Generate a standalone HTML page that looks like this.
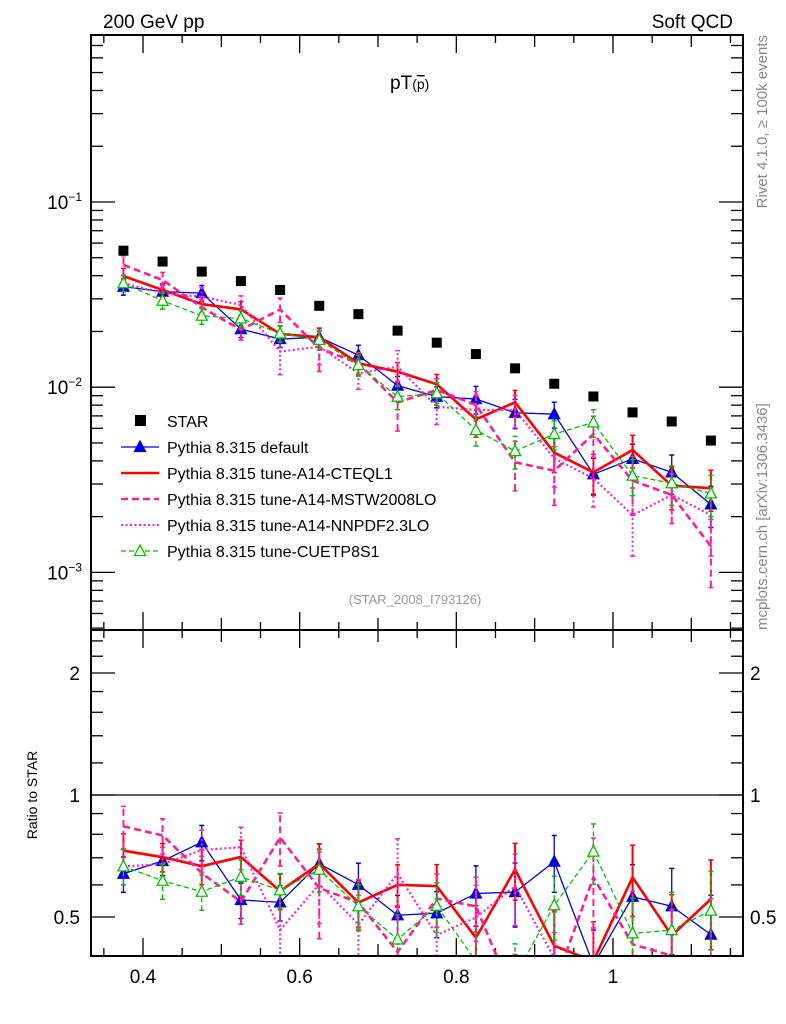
<!DOCTYPE html>
<html><head><meta charset="utf-8"><style>
html,body{margin:0;padding:0;background:#fff;overflow:hidden;width:786px;height:1024px;}
svg{display:block;font-family:"Liberation Sans",Arial,sans-serif;}
</style></head><body>
<svg id="c" width="786" height="1024" viewBox="0 0 786 1024">
<defs>
<clipPath id="mainClip"><rect x="91" y="35" width="652" height="595"/></clipPath>
<clipPath id="ratClip"><rect x="91" y="630" width="652" height="326"/></clipPath>
</defs>
<text x="103" y="28" font-size="19">200 GeV pp</text>
<text x="733" y="28" font-size="19" text-anchor="end">Soft QCD</text>
<text x="390" y="89" font-size="19">pT<tspan font-size="14">(</tspan><tspan font-size="14" text-decoration="overline">p</tspan><tspan font-size="14">)</tspan></text>
<text x="415" y="604" font-size="13" fill="#999" text-anchor="middle">(STAR_2008_I793126)</text>
<text transform="translate(767,35) rotate(-90)" font-size="15" fill="#888" text-anchor="end">Rivet 4.1.0, ≥ 100k events</text>
<text transform="translate(767,630) rotate(-90)" font-size="15" fill="#888">mcplots.cern.ch [arXiv:1306.3436]</text>
<text transform="translate(37,795) rotate(-90)" font-size="14" text-anchor="middle">Ratio to STAR</text>
<g id="axes"></g>
<g id="mainMarks" clip-path="url(#mainClip)"></g>
<g id="ratMarks" clip-path="url(#ratClip)"></g>
<g id="legend"></g>
<rect x="91" y="35" width="652" height="595" fill="none" stroke="#000" stroke-width="2"/>
<rect x="91" y="630" width="652" height="326" fill="none" stroke="#000" stroke-width="2"/>
</svg>
<script>
const xBins=[0.375,0.425,0.475,0.525,0.575,0.625,0.675,0.725,0.775,0.825,0.875,0.925,0.975,1.025,1.075,1.125];
const starVals=[0.0546,0.0477,0.0421,0.0374,0.0335,0.0275,0.0248,0.0202,0.0174,0.0151,0.01264,0.01044,0.00891,0.00731,0.00653,0.00515];
const defaultVals=[0.0349,0.0328,0.0322,0.0206,0.0182,0.0186,0.0149,0.0102,0.00889,0.00863,0.00728,0.00715,0.00339,0.00410,0.00347,0.00233];
const cteqVals=[0.0398,0.0335,0.0281,0.0263,0.0194,0.0186,0.01346,0.01213,0.01037,0.00671,0.00828,0.00443,0.00347,0.00458,0.00294,0.00285];
const mstwVals=[0.0457,0.0379,0.0270,0.0204,0.0263,0.0162,0.01346,0.00828,0.00966,0.00802,0.00393,0.00354,0.00558,0.00313,0.00262,0.00138];
const nnpdfVals=[0.0364,0.0322,0.0308,0.0278,0.01556,0.01656,0.01189,0.01291,0.00785,0.00753,0.00753,0.00413,0.00322,0.00204,0.00262,0.00204];
const cuetVals=[0.0364,0.0293,0.0243,0.0235,0.0195,0.0180,0.01318,0.00889,0.00927,0.00587,0.00452,0.00558,0.00646,0.00333,0.00303,0.00267];
const defaultErr=[0.1,0.08,0.1,0.1,0.1,0.12,0.13,0.12,0.13,0.17,0.18,0.16,0.22,0.2,0.24,0.25];
const cteqErr=[0.1,0.08,0.1,0.1,0.1,0.12,0.13,0.12,0.13,0.2,0.16,0.22,0.25,0.2,0.26,0.25];
const mstwErr=[0.12,0.1,0.1,0.12,0.15,0.25,0.14,0.3,0.15,0.18,0.3,0.35,0.25,0.35,0.3,0.4];
const nnpdfErr=[0.1,0.1,0.12,0.12,0.25,0.2,0.18,0.22,0.2,0.2,0.2,0.3,0.3,0.4,0.3,0.4];
const cuetErr=[0.1,0.1,0.1,0.1,0.1,0.12,0.13,0.15,0.14,0.18,0.2,0.18,0.17,0.22,0.24,0.25];
const xTickLabels=["0.4","0.6","0.8","1"];
const ratioTickLabels=["0.5","1","2"];

const NS="http://www.w3.org/2000/svg";
function X(v){return 143+(v-0.4)*783.3;}
function Y(v){return Math.min(700,Math.max(0,202-(Math.log10(v)+1)*185.2));}
function R(r){return Math.min(1000,Math.max(600,795-Math.log2(r)*122));}
function mk(tag,attrs,parent){const e=document.createElementNS(NS,tag);for(const k in attrs)e.setAttribute(k,attrs[k]);parent.appendChild(e);return e;}
const axes=document.getElementById('axes');
const mainG=document.getElementById('mainMarks');
const ratG=document.getElementById('ratMarks');
const legG=document.getElementById('legend');

for(let i=0;i<=16;i++){
  const v=0.35+i*0.05; const x=X(v); if(x<92||x>742) continue;
  const isLab=Math.abs((v*10)%2)<0.01||Math.abs((v*10)%2-2)<0.01;
  const isTenth=Math.abs(v*10-Math.round(v*10))<0.01;
  const len=isLab?18:(isTenth?12:8);
  [[35,1],[630,-1],[630,1],[956,-1]].forEach(([y0,d])=>{
    const t=mk('line',{x1:x,x2:x,y1:y0,y2:y0+d*len,stroke:'#000','stroke-width':1.3},axes);
    
    
  });
}
xTickLabels.forEach(s=>{
  const t=mk('text',{x:X(parseFloat(s)),y:983,'font-size':19,'text-anchor':'middle'},axes);
  t.textContent=s;
  
  
});
for(let e=-4;e<=0;e++){
  for(let m=1;m<=9;m++){
    const v=m*Math.pow(10,e); const y=202-(Math.log10(v)+1)*185.2; if(y<36||y>629) continue;
    const len=m===1?24:12;
    [[91,1],[743,-1]].forEach(([x0,d])=>{
      const t=mk('line',{x1:x0,x2:x0+d*len,y1:y,y2:y,stroke:'#000','stroke-width':1.3},axes);
      
      
    });
    if(m===1){
      const t=mk('text',{x:82,y:y+7,'font-size':19,'text-anchor':'end'},axes);
      t.innerHTML='10<tspan dy="-8" font-size="12">−'+(-e)+'</tspan>';
      
      
    }
  }
}
[0.5,0.6,0.7,0.8,0.9,1,1.2,1.4,1.6,1.8,2,2.2,2.4,2.6].forEach(v=>{
  const y=795-Math.log2(v)*122; if(y<631||y>955) return;
  const major=(v===0.5||v===1||v===2);
  [[91,1],[743,-1]].forEach(([x0,d])=>{
    const t=mk('line',{x1:x0,x2:x0+d*(major?24:12),y1:y,y2:y,stroke:'#000','stroke-width':1.3},axes);
    
    
  });
});
ratioTickLabels.forEach(s=>{
  const y=R(parseFloat(s));
  const a=mk('text',{x:80,y:y+7,'font-size':19,'text-anchor':'end'},axes);a.textContent=s;
  
  
  const b=mk('text',{x:750,y:y+7,'font-size':19},axes);b.textContent=s;
  
  
});
const ref=mk('line',{x1:91,x2:743,y1:R(1),y2:R(1),stroke:'#000','stroke-width':1.3},ratG);



const series=[
 {name:'default',vals:defaultVals,err:defaultErr,col:'#0000dd',w:1.3,dash:'',mark:'tri'},
 {name:'cteql1',vals:cteqVals,err:cteqErr,col:'#ff0000',w:2.6,dash:'',mark:''},
 {name:'mstw2008lo',vals:mstwVals,err:mstwErr,col:'#ff1f8f',w:2.6,dash:'7,4',mark:''},
 {name:'nnpdf23lo',vals:nnpdfVals,err:nnpdfErr,col:'#ff22cc',w:2.2,dash:'2,2.5',mark:''},
 {name:'cuetp8s1',vals:cuetVals,err:cuetErr,col:'#00c000',w:1.3,dash:'5,3',mark:'otri'}
];
function tri(g,x,y,col,filled){
  return mk('polygon',{points:`${x},${y-6} ${x-5.5},${y+4.5} ${x+5.5},${y+4.5}`,fill:filled?col:'#fff',stroke:col,'stroke-width':1.3},g);
}
function drawSeries(g,s,fy,isRatio){
  s.vals.forEach((v,i)=>{
    const val=isRatio?v/starVals[i]:v;
    const y1=fy(val*(1-s.err[i])),y2=fy(val*(1+s.err[i]));const x=X(xBins[i]);
    const e=mk('line',{x1:x,x2:x,y1:y1,y2:y2,stroke:s.col,'stroke-width':s.w>2?2:1.3,'stroke-dasharray':s.dash},g);
    
    
    mk('line',{x1:x-2.5,x2:x+2.5,y1:y1,y2:y1,stroke:s.col,'stroke-width':1.5},g);
    mk('line',{x1:x-2.5,x2:x+2.5,y1:y2,y2:y2,stroke:s.col,'stroke-width':1.5},g);
  });
  const pts=s.vals.map((v,i)=>X(xBins[i])+','+fy(isRatio?v/starVals[i]:v)).join(' ');
  const l=mk('polyline',{points:pts,fill:'none',stroke:s.col,'stroke-width':s.w,'stroke-dasharray':s.dash},g);
  
  
  if(s.mark){
    s.vals.forEach((v,i)=>{
      const m=tri(g,X(xBins[i]),fy(isRatio?v/starVals[i]:v),s.col,s.mark==='tri');
      
      
    });
  }
}
series.forEach(s=>drawSeries(mainG,s,Y,false));
series.forEach(s=>drawSeries(ratG,s,R,true));
starVals.forEach((v,i)=>{
  const r=mk('rect',{x:X(xBins[i])-5,y:Y(v)-5,width:10,height:10,fill:'#000'},mainG);
  
  
});

const legNames=['STAR','Pythia 8.315 default','Pythia 8.315 tune-A14-CTEQL1','Pythia 8.315 tune-A14-MSTW2008LO','Pythia 8.315 tune-A14-NNPDF2.3LO','Pythia 8.315 tune-CUETP8S1'];
legNames.forEach((n,i)=>{
  const y=421+i*26;
  const g=mk('g',{},legG);
  
  
  if(i===0){mk('rect',{x:135,y:y-6,width:11,height:11,fill:'#000'},g);}
  else{
    const s=series[i-1];
    mk('line',{x1:121,x2:159,y1:y,y2:y,stroke:s.col,'stroke-width':s.w,'stroke-dasharray':s.dash},g);
    if(s.mark) tri(g,140,y,s.col,s.mark==='tri');
  }
  const t=mk('text',{x:167,y:y+6,'font-size':16},g);t.textContent=n;
});
</script>
</body></html>
